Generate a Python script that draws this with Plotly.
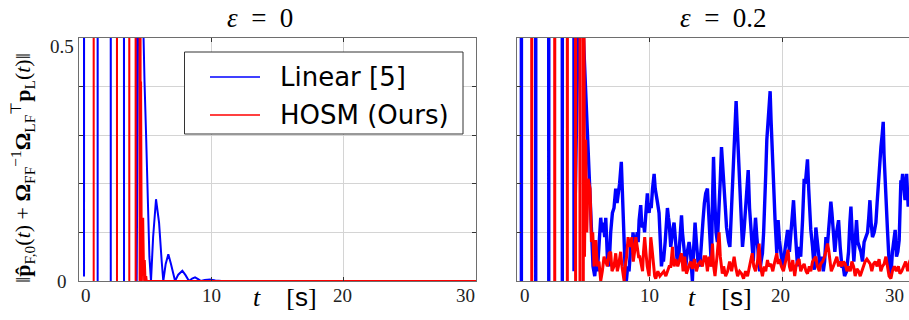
import plotly.graph_objects as go

# ---------------- data ----------------
# values of 3.0 stand for samples far above the visible range (clipped at 0.5)
t_linear_eps0 = [0, 0.36, 0.38, 0.40, 1.39, 1.41, 1.43, 2.38, 2.40, 2.42, 3.38, 3.40, 3.42,
                 4.34, 4.36, 4.40, 4.60, 4.80, 4.86, 4.95, 5.07, 5.19, 5.32, 5.44, 5.60, 5.82,
                 6.05, 6.25, 6.37, 6.55, 6.75, 6.95, 7.15, 7.26, 7.50, 7.81, 8.05, 8.31, 8.55,
                 8.77, 9.00, 9.22, 9.50, 9.90, 10.30, 10.80, 30]
v_linear_eps0 = [3, 3, 0.009, 3, 3, 0, 3, 3, 0, 3, 3, 0, 3,
                 3, 0, 1.0, 1.2, 0.6, 0.5, 0.41, 0.30, 0.16, 0.05, 0, 0.09, 0.168,
                 0.12, 0.04, 0, 0.035, 0.055, 0.035, 0.008, 0, 0.013, 0.021, 0.012, 0, 0.005,
                 0.0075, 0.004, 0, 0.002, 0.003, 0.001, 0, 0]

t_hosm_eps0 = [0, 1.09, 1.11, 1.13, 2.85, 2.87, 2.89, 3.78, 3.80, 3.82, 4.26, 4.28, 4.30,
               4.56, 4.58, 4.62, 4.66, 4.69, 4.75, 4.85, 4.92, 4.97, 5.03, 5.08, 5.12, 30]
v_hosm_eps0 = [3, 3, 0, 3, 3, 0, 3, 3, 0, 3, 3, 0, 3,
               3, 0, 3, 0, 0.41, 0, 0.13, 0, 0.043, 0, 0.01, 0, 0]

t_linear_eps02 = [0, 0.31, 0.33, 0.35, 1.39, 1.41, 1.43, 2.37, 2.39, 2.41, 3.39, 3.41, 3.43,
                  4.27, 4.29, 4.31, 4.9, 5.0, 5.1, 5.2, 5.3, 5.42, 5.52, 5.62, 5.72, 5.85, 5.95,
                  6.05, 6.17, 6.3, 6.4, 6.5, 6.6, 6.68, 6.8, 6.93, 7.05, 7.18, 7.3, 7.43, 7.53,
                  7.63, 7.72, 7.85, 7.92, 7.98, 8.05, 8.13, 8.23, 8.33, 8.43, 8.5, 8.56, 8.65,
                  8.73, 8.83, 8.94, 9.05, 9.12, 9.19, 9.31, 9.38, 9.44, 9.52, 9.6, 9.7, 9.81,
                  9.88, 9.94, 10.02, 10.1, 10.2, 10.32, 10.4, 10.49, 10.58, 10.69, 10.78, 10.87,
                  10.95, 11.02, 11.15, 11.25, 11.32, 11.4, 11.45, 11.57, 11.68, 11.75, 11.82,
                  11.92, 12.0, 12.07, 12.15, 12.25, 12.38, 12.45, 12.55, 12.7, 12.82, 12.95,
                  13.05, 13.2, 13.3, 13.4, 13.5, 13.62, 13.76, 13.88, 14.0, 14.1, 14.2, 14.33,
                  14.45, 14.55, 14.63, 14.7, 14.79, 14.88, 14.98, 15.08, 15.2, 15.3, 15.39,
                  15.46, 15.54, 15.62, 15.69, 15.77, 15.84, 15.93, 16.02, 16.1, 16.21, 16.34,
                  16.42, 16.49, 16.55, 16.62, 16.72, 16.84, 16.97, 17.09, 17.18, 17.27, 17.4,
                  17.5, 17.65, 17.78, 17.88, 17.95, 18.05, 18.15, 18.27, 18.37, 18.47, 18.56,
                  18.65, 18.72, 18.8, 18.88, 18.95, 19.05, 19.12, 19.2, 19.3, 19.42, 19.55,
                  19.65, 19.75, 19.85, 19.98, 20.1, 20.2, 20.36, 20.5, 20.66, 20.81, 20.9, 21.0,
                  21.11, 21.23, 21.35, 21.49, 21.56, 21.61, 21.7, 21.78, 21.86, 21.95, 22.03,
                  22.11, 22.24, 22.37, 22.49, 22.6, 22.7, 22.8, 22.95, 23.05, 23.15, 23.25,
                  23.35, 23.45, 23.55, 23.62, 23.7, 23.8, 23.92, 24.05, 24.2, 24.32, 24.45,
                  24.55, 24.65, 24.8, 24.95, 25.05, 25.13, 25.22, 25.35, 25.45, 25.55, 25.65,
                  25.75, 25.88, 26.0, 26.12, 26.25, 26.38, 26.47, 26.56, 26.65, 26.75, 26.88,
                  27.01, 27.1, 27.16, 27.26, 27.39, 27.48, 27.56, 27.62, 27.7, 27.76, 27.88,
                  28.0, 28.14, 28.25, 28.35, 28.46, 28.56, 28.66, 28.76, 28.83, 28.89, 28.95,
                  29.02, 29.12, 29.2, 29.32, 29.44, 29.55, 29.7, 29.85, 30]
v_linear_eps02 = [3, 3, 0, 3, 3, 0, 3, 3, 0, 3, 3, 0, 3,
                  3, 0.02, 3, 1.0, 0.5, 0.43, 0.38, 0.31, 0.25, 0.17, 0.09, 0.03, 0.01, 0.04,
                  0.02, 0.07, 0.13, 0.1, 0.12, 0.09, 0.13, 0.05, 0.03, 0.1, 0.14, 0.15, 0.19, 0.16,
                  0.18, 0.2, 0.245, 0.19, 0.14, 0.08, 0.03, 0.0, 0.03, 0.02, 0.05, 0.07, 0.06,
                  0.1, 0.07, 0.08, 0.1, 0.08, 0.125, 0.156, 0.12, 0.11, 0.12, 0.1, 0.14, 0.18,
                  0.15, 0.14, 0.16, 0.15, 0.19, 0.22, 0.19, 0.17, 0.16, 0.14, 0.08, 0.03,
                  0.05, 0.04, 0.08, 0.12, 0.15, 0.13, 0.12, 0.07, 0.1, 0.11, 0.12,
                  0.08, 0.06, 0.036, 0.04, 0.09, 0.135, 0.1, 0.07, 0.03, 0.06, 0.08,
                  0.06, 0.0, 0.07, 0.12, 0.08, 0.04, 0.03, 0.09, 0.125, 0.16, 0.18, 0.19,
                  0.11, 0.06, 0.03, 0.15, 0.255, 0.17, 0.1, 0.08, 0.14, 0.21, 0.275,
                  0.25, 0.21, 0.17, 0.146, 0.11, 0.09, 0.08, 0.07, 0.12, 0.17, 0.26,
                  0.32, 0.37, 0.33, 0.29, 0.22, 0.14, 0.07, 0.105, 0.15, 0.187, 0.228,
                  0.15, 0.09, 0.04, 0.1, 0.13, 0.09, 0.05, 0.02, 0.04, 0.057, 0.1,
                  0.15, 0.22, 0.29, 0.32, 0.35, 0.39, 0.33, 0.27, 0.19, 0.125, 0.057,
                  0.125, 0.084, 0.06, 0.03, 0.05, 0.07, 0.105, 0.06, 0.11, 0.166, 0.12, 0.07,
                  0.03, 0.07, 0.05, 0.125, 0.21, 0.21, 0.2, 0.22, 0.25, 0.19, 0.14,
                  0.105, 0.07, 0.023, 0.11, 0.08, 0.05, 0.03, 0.05, 0.02, 0.04, 0.09,
                  0.07, 0.1, 0.14, 0.163, 0.14, 0.09, 0.06, 0.1, 0.125, 0.07, 0.03,
                  0.03, 0.01, 0.02, 0.06, 0.12, 0.153, 0.1, 0.04, 0.08, 0.125, 0.08,
                  0.07, 0.06, 0.04, 0.08, 0.09, 0.1, 0.13, 0.166, 0.12, 0.09, 0.1,
                  0.12, 0.16, 0.19, 0.235, 0.276, 0.3, 0.327, 0.26, 0.2, 0.19, 0.105,
                  0.04, 0.01, 0.06, 0.084, 0.105, 0.05, 0.06, 0.084, 0.15, 0.207, 0.2,
                  0.22, 0.19, 0.166, 0.22, 0.153, 0.19, 0.15, 0.17, 0.14]

t_hosm_eps02 = [0, 1.09, 1.11, 1.13, 2.82, 2.84, 2.86, 3.77, 3.79, 3.81, 4.39, 4.41, 4.43,
                4.72, 4.74, 4.76, 4.97, 4.99, 5.02, 5.08, 5.17, 5.25, 5.35, 5.5, 5.6, 5.7, 5.8,
                5.93, 6.05, 6.17, 6.3, 6.42, 6.55, 6.68, 6.8, 6.93, 7.05, 7.15, 7.3, 7.43, 7.55,
                7.63, 7.8, 7.9, 8.06, 8.15, 8.25, 8.36, 8.5, 8.64, 8.75, 8.85, 8.94, 9.05, 9.15,
                9.24, 9.35, 9.45, 9.52, 9.61, 9.7, 9.8, 9.94, 10.07, 10.15, 10.28, 10.36, 10.44,
                10.6, 10.75, 10.9, 11.05, 11.2, 11.3, 11.45, 11.57, 11.7, 11.82, 11.95, 12.1,
                12.25, 12.38, 12.5, 12.62, 12.75, 12.9, 13.05, 13.2, 13.35, 13.5, 13.65, 13.8,
                13.95, 14.08, 14.2, 14.33, 14.45, 14.6, 14.71, 14.8, 14.9, 15.05, 15.13, 15.21,
                15.3, 15.45, 15.55, 15.7, 15.85, 16.0, 16.15, 16.34, 16.45, 16.6, 16.75, 16.9,
                17.05, 17.2, 17.35, 17.6, 17.7, 17.82, 17.95, 18.1, 18.22, 18.32, 18.47, 18.6,
                18.72, 18.85, 18.95, 19.1, 19.25, 19.4, 19.55, 19.65, 19.75, 19.9, 20.05, 20.23,
                20.4, 20.5, 20.6, 20.75, 20.9, 21.0, 21.11, 21.23, 21.35, 21.49, 21.61, 21.75,
                21.86, 22.0, 22.11, 22.24, 22.37, 22.49, 22.6, 22.75, 22.85, 23.0, 23.15, 23.25,
                23.37, 23.45, 23.55, 23.65, 23.8, 23.93, 24.07, 24.2, 24.32, 24.45, 24.57, 24.7,
                24.83, 24.95, 25.08, 25.2, 25.33, 25.45, 25.58, 25.7, 25.83, 25.95, 26.08, 26.2,
                26.33, 26.45, 26.58, 26.7, 26.83, 26.96, 27.1, 27.25, 27.38, 27.5, 27.63, 27.76,
                27.9, 28.0, 28.14, 28.25, 28.4, 28.55, 28.7, 28.82, 28.95, 29.1, 29.25, 29.4,
                29.55, 29.7, 29.85, 30]
v_hosm_eps02 = [3, 3, 0, 3, 3, 0, 3, 3, 0, 3, 3, 0, 3,
                3, 0, 3, 3, 0, 0.9, 0.05, 0.29, 0.1, 0.21, 0.19, 0.08, 0.1, 0.03,
                0.084, 0.03, 0.04, 0.0, 0.02, 0.05, 0.04, 0.03, 0.057, 0.06, 0.02, 0.03, 0.057, 0.02,
                0.03, 0.06, 0.03, 0.0, 0.03, 0.05, 0.09, 0.07, 0.09, 0.04, 0.06, 0.09, 0.07, 0.05,
                0.05, 0.03, 0.02, 0.06, 0.09, 0.06, 0.03, 0.01, 0.09, 0.07, 0.02, 0.01, 0.005,
                0.02, 0.01, 0.015, 0.02, 0.01, 0.02, 0.03, 0.03, 0.07, 0.03, 0.045, 0.03,
                0.045, 0.057, 0.02, 0.05, 0.015, 0.03, 0.04, 0.025, 0.045, 0.02, 0.035, 0.04,
                0.03, 0.05, 0.05, 0.02, 0.05, 0.03, 0.077, 0.03, 0.01, 0.05, 0.08, 0.1,
                0.05, 0.015, 0.03, 0.01, 0.02, 0.04, 0.02, 0.05, 0.03, 0.01, 0.02, 0.015,
                0.005, 0.02, 0.01, 0.05, 0.057, 0.03, 0.02, 0.04, 0.077, 0.03, 0.01, 0.03,
                0.02, 0.043, 0.03, 0.035, 0.02, 0.04, 0.057, 0.035, 0.045, 0.03, 0.02, 0.043,
                0.064, 0.03, 0.02, 0.043, 0.01, 0.03, 0.04, 0.045, 0.02, 0.03, 0.035, 0.02,
                0.015, 0.03, 0.02, 0.04, 0.045, 0.05, 0.03, 0.02, 0.035, 0.04, 0.05, 0.06,
                0.077, 0.065, 0.04, 0.02, 0.03, 0.04, 0.05, 0.03, 0.04, 0.03, 0.04, 0.035,
                0.02, 0.03, 0.02, 0.04, 0.03, 0.01, 0.025, 0.02, 0.01, 0.02, 0.03, 0.04,
                0.045, 0.04, 0.035, 0.02, 0.035, 0.04, 0.03, 0.045, 0.02, 0.03, 0.035, 0.05,
                0.025, 0.01, 0.005, 0.02, 0.03, 0.02, 0.03, 0.015, 0.02, 0.03, 0.04, 0.02,
                0.04, 0.05, 0.06, 0.04]

x_tick_labels = ["0", "10", "20", "30"]
y_tick_labels = ["0", "0.5"]
series_names = ["Linear [5]", "HOSM (Ours)"]
panel_titles = ["<i>ε</i>&nbsp;&nbsp;=&nbsp;&nbsp;0", "<i>ε</i>&nbsp;&nbsp;=&nbsp;&nbsp;0.2"]

BLUE = "#0000ff"
RED = "#ff0000"
W, H = 909, 320


def px_x(p):
    return p / W


def px_y(p):
    return 1 - p / H


fig = go.Figure()

fig.add_trace(go.Scatter(x=t_linear_eps0, y=v_linear_eps0, mode="lines", name=series_names[0],
                         line=dict(color=BLUE, width=2), xaxis="x", yaxis="y"))
fig.add_trace(go.Scatter(x=t_hosm_eps0, y=v_hosm_eps0, mode="lines", name=series_names[1],
                         line=dict(color=RED, width=2), xaxis="x", yaxis="y"))
fig.add_trace(go.Scatter(x=t_linear_eps02, y=v_linear_eps02, mode="lines", name=series_names[0],
                         line=dict(color=BLUE, width=3.4), xaxis="x2", yaxis="y2"))
fig.add_trace(go.Scatter(x=t_hosm_eps02, y=v_hosm_eps02, mode="lines", name=series_names[1],
                         line=dict(color=RED, width=3), xaxis="x2", yaxis="y2"))

ydom = [px_y(281), px_y(37.7)]
axis_common = dict(showgrid=True, gridcolor="#d4d4d4", gridwidth=1.3, zeroline=False,
                   showline=True, linecolor="#6e6e6e", linewidth=1,
                   ticks="inside", ticklen=4, tickcolor="#333333", showticklabels=False)

fig.update_layout(
    width=W, height=H,
    margin=dict(l=0, r=0, t=0, b=0),
    paper_bgcolor="white", plot_bgcolor="white",
    showlegend=False,
    xaxis=dict(domain=[px_x(79), px_x(476)], range=[0, 30], tickvals=[0, 10, 20, 30],
               anchor="y", mirror="ticks", **axis_common),
    yaxis=dict(domain=ydom, range=[0, 0.5], tickvals=[0, 0.1, 0.2, 0.3, 0.4, 0.5],
               anchor="x", mirror="ticks", **axis_common),
    xaxis2=dict(domain=[px_x(517), 1.0], range=[0, 29.5], tickvals=[0, 10, 20, 30],
                anchor="y2", mirror="ticks", **axis_common),
    yaxis2=dict(domain=ydom, range=[0, 0.5], tickvals=[0, 0.1, 0.2, 0.3, 0.4, 0.5],
                anchor="x2", mirror=False, **axis_common),
)

ann = []
shapes = []
serif = "Liberation Serif"


def label(txt, xp, yp, size, family=serif, color="#222", angle=0, xanchor="center"):
    return dict(text=txt, x=px_x(xp), y=px_y(yp), xref="paper", yref="paper",
                xanchor=xanchor, yanchor="middle", showarrow=False, textangle=angle,
                font=dict(family=family, size=size, color=color))


# x tick labels (left and right panel)
for txt, p in zip(x_tick_labels, [86, 211, 342, 465]):
    ann.append(label(txt, p, 295, 19))
for txt, p in zip(x_tick_labels, [525, 649, 780, 894]):
    ann.append(label(txt, p, 295, 19))
# y tick labels
for txt, p in zip(y_tick_labels, [281, 47]):
    ann.append(label(txt, 62, p, 19))
# panel titles
for txt, p in zip(panel_titles, [260, 723]):
    ann.append(label(txt, p, 18, 27, color="black"))
# x axis titles
for p in [285, 720]:
    ann.append(label("<i>t</i>&nbsp;&nbsp;&nbsp;&nbsp;[<span style='font-family:Liberation Sans'>s</span>]",
                     p, 297, 26, color="black"))
# y axis title
ann.append(label("‖<b>p̂</b><sub>F,0</sub>(<i>t</i>) + <b>Ω</b><sub>FF</sub><sup>−1</sup>"
                 "<b>Ω</b><sub>LF</sub><sup>⊤</sup><b>p</b><sub>L</sub>(<i>t</i>)‖",
                 22, 168, 22, color="black", angle=-90))

# legend box (drawn in the left panel, as in the reference)
shapes.append(dict(type="rect", xref="paper", yref="paper",
                   x0=px_x(184.5), x1=px_x(463), y0=px_y(134), y1=px_y(52),
                   fillcolor="white", line=dict(color="#333333", width=1), layer="above"))
for name, color, yp in zip(series_names, [BLUE, RED], [77, 115]):
    shapes.append(dict(type="line", xref="paper", yref="paper",
                       x0=px_x(210), x1=px_x(260), y0=px_y(yp), y1=px_y(yp),
                       line=dict(color=color, width=1.6), layer="above"))
    ann.append(label(name, 278, yp, 26, family="DejaVu Sans", color="black", xanchor="left"))

fig.update_layout(annotations=ann, shapes=shapes)
fig.write_html("out.html", config={"displayModeBar": False},
               post_script="document.body.style.margin='0';")
